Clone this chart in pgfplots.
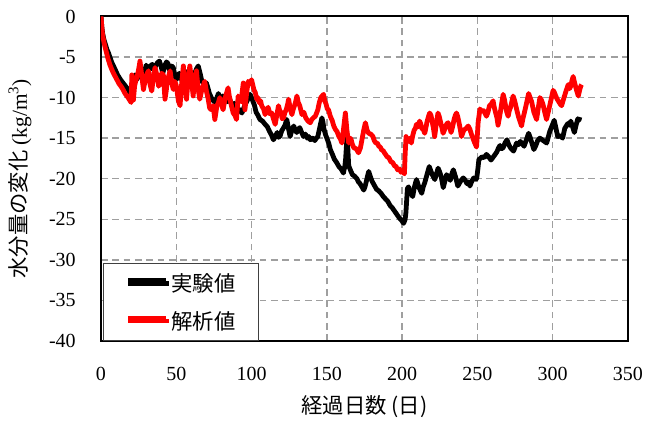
\documentclass[border=0pt]{standalone}
\usepackage{pgfplots}
\pgfplotsset{compat=1.18}
\usepackage{fontspec}
\setmainfont{Liberation Serif}
\newfontfamily\cjk{Noto Sans CJK JP}

% measured series: water content change (kg/m^3) vs elapsed days
\pgfplotstableread{
x y
0 0
0.5 -1.2
1 -2.0
2 -2.9
2.7 -3.3
4 -4.1
5 -4.5
7 -5.6
9.3 -6.5
11 -7.2
13 -7.8
15.5 -8.4
18 -9.0
19.5 -9.6
20.5 -9.0
21 -8.5
22 -7.6
22.6 -7.2
23.5 -7.8
25 -7.4
26 -6.8
27 -6.6
28.5 -7.2
30 -6.0
31 -6.4
32 -6.6
33 -6.1
34 -5.9
35 -6.6
36 -6.2
37.5 -5.7
38.8 -5.5
40 -6.2
41 -7.0
42.5 -6.0
43.5 -5.6
44.5 -5.8
45.3 -6.5
46 -6.8
47 -6.1
48 -6.3
49 -7.2
50 -7.8
51 -7.3
52 -7.0
53.5 -7.8
55 -7.5
56.5 -6.8
58 -7.0
59 -7.7
60 -8.0
61 -7.6
62 -7.2
63.3 -6.5
64.6 -6.1
65.8 -7.0
67 -8.0
68.5 -8.3
70 -8.2
71 -8.8
72 -9.5
73.8 -10.2
75.6 -10.6
77 -10.0
78 -9.5
79.5 -10.3
81 -9.8
82.5 -10.0
84 -10.5
85.5 -10.2
87 -11.0
88.5 -10.7
90 -11.2
91.8 -11.5
93.6 -11.9
95 -11.2
96 -10.8
97.5 -10.2
99 -9.6
100 -10.0
101 -10.5
102 -11.0
103 -11.8
104.3 -12.2
105.6 -12.7
107.3 -12.9
109 -13.3
110.5 -13.6
112 -14.2
113.2 -14.6
114.5 -15.2
115.8 -14.8
117 -14.3
118 -14.9
119 -14.7
120 -14.1
121 -13.8
122.2 -13.4
123.4 -12.7
124.5 -13.8
125.6 -14.8
126.8 -14.0
128 -13.5
129 -14.0
130 -14.3
131 -13.9
132 -13.7
133.3 -14.3
134.5 -14.8
135.8 -14.5
137 -15.0
138 -14.8
139 -15.2
140.5 -15.0
142 -15.3
143 -15.0
144 -14.8
145.4 -13.6
146.7 -12.5
147.4 -13.0
148 -13.8
149 -14.5
150 -15.0
151.2 -15.6
152.3 -16.4
153.7 -17.0
155 -17.6
156.5 -18.0
158 -18.5
159.5 -18.8
161 -19.3
162 -18.4
162.5 -17.5
163.4 -14.8
164 -16.5
164.5 -18.4
165.8 -19.0
167 -19.5
168.5 -19.7
170 -20.0
171 -20.4
172 -20.6
173.3 -21.0
174.5 -21.4
175.3 -21.0
176 -20.5
177 -19.7
177.8 -19.1
179 -19.8
180 -20.3
181.5 -20.8
183 -21.3
184.5 -21.5
186 -21.8
187.5 -22.2
189 -22.5
190.5 -22.8
192 -23.3
193.5 -23.6
195 -24.0
196.5 -24.4
198 -24.8
199.5 -25.1
201 -25.5
202 -25.0
202.5 -24.2
203.5 -21.2
204.3 -21.0
205 -21.5
206 -21.8
207 -22.2
208.2 -21.0
209.5 -20.1
210.3 -20.5
211 -21.0
212 -21.4
213 -21.8
214 -21.0
215 -20.5
216.5 -19.5
218 -18.5
219 -19.0
220 -19.5
221.7 -20.1
222.8 -19.4
223.9 -18.7
225 -19.2
226 -19.8
227.3 -21.1
228.4 -20.3
229.5 -19.5
230.8 -19.8
232 -20.2
233 -19.4
234 -18.9
235.5 -19.8
237 -20.9
238.8 -20.3
240.6 -19.9
242 -20.2
243 -20.6
244 -20.4
245 -20.9
246.3 -20.3
247.5 -19.9
248.5 -20.1
249.5 -20.0
250.3 -18.8
251 -17.6
252 -17.5
253 -17.3
254.5 -17.4
256 -17.0
257.5 -17.3
259 -17.7
261 -17.2
262.9 -16.7
264 -16.2
265 -15.9
266 -16.3
267 -16.2
268.3 -15.6
269.6 -15.2
270.8 -15.8
272 -16.2
273 -16.4
274 -16.6
275 -16.1
276 -15.6
277.3 -15.8
278.5 -15.4
279.8 -15.7
281 -16.0
282.5 -15.2
284 -14.4
285 -14.9
286 -15.5
287.5 -16.4
288.8 -15.9
290 -15.3
291.5 -15.0
293 -15.2
294.5 -15.4
296 -15.6
297 -14.9
298 -14.2
299.5 -13.5
301 -12.8
302.2 -13.8
303.3 -14.8
305 -14.7
306.6 -15.0
307.3 -14.4
308 -13.8
309 -13.5
310 -13.2
311 -13.4
312 -12.9
313.2 -13.6
314.4 -14.3
315.5 -13.4
316.7 -12.6
317.4 -12.8
318 -12.4
}\measured

% analysed series
\pgfplotstableread{
x y
0 0
0.5 -1.2
1 -2.2
2 -3.2
3 -4.0
4.5 -5.1
6 -6.0
8 -6.9
10 -7.6
12 -8.3
14 -8.8
16 -9.5
18 -10.0
19.3 -10.4
20 -10.6
20.5 -7.2
21.5 -10.3
22.3 -8.6
23 -8.0
24.5 -7.0
25.3 -6.2
25.9 -5.5
27 -7.2
28.2 -9.0
29 -8.2
30 -7.3
31.5 -6.7
32.6 -8.4
33.7 -9.2
35 -7.2
35.9 -6.3
37.5 -7.5
38.3 -8.6
39.2 -8.2
40.3 -7.0
41.4 -7.2
42.5 -10.2
43.3 -9.2
44 -8.0
45.9 -6.7
47 -8.2
48 -9.0
49 -8.0
50 -8.5
51.4 -10.4
52.5 -11.0
53.7 -8.0
54.7 -6.1
55.8 -8.8
56.8 -10.2
58 -7.5
59 -6.1
60.2 -8.0
61.2 -9.8
62.3 -7.6
63.4 -6.7
64.5 -8.9
65.6 -10.2
67 -9.0
68.9 -8.0
70 -9.2
71 -10.0
72.2 -11.3
73.3 -11.5
74.5 -11.0
75.6 -12.7
77 -11.0
78 -10.6
78.9 -10.0
80 -10.8
81.1 -11.5
82.5 -10.0
84.4 -8.8
85.2 -9.8
86 -10.5
87.8 -11.9
89 -12.2
90 -12.7
91.1 -9.8
92 -10.3
93 -10.5
94.5 -8.2
95.6 -11.5
96.8 -9.3
97.8 -8.0
99 -8.2
100 -7.8
101.5 -9.0
102.5 -9.4
103.4 -10.2
104.2 -10.0
105 -10.6
106 -10.4
106.7 -11.0
108 -11.4
109 -12.1
110 -11.5
111 -11.2
112.2 -12.0
113.4 -11.9
114.5 -12.6
115.7 -13.3
116.8 -12.1
117.9 -11.0
118.7 -11.6
119.5 -11.8
120.3 -12.6
121.2 -12.5
122.2 -11.8
123 -11.5
124 -10.8
124.6 -10.2
125.7 -11.4
126.8 -12.1
127.6 -11.5
128.5 -11.0
129.3 -10.5
130.1 -9.8
131 -10.6
132 -11.0
133.5 -12.1
134.7 -11.8
136 -12.5
137.5 -12.9
139 -13.1
140 -12.7
141 -12.5
142.3 -12.3
143 -12.0
144 -11.5
145 -10.6
146 -10.0
147.8 -9.6
148.6 -10.4
149.5 -10.8
150.3 -11.4
151.1 -11.5
152.3 -12.3
153.5 -12.8
154.6 -13.5
155.6 -13.9
156.8 -14.2
158 -14.8
159 -15.1
160 -15.6
161 -14.0
162.3 -11.9
163.3 -14.0
164.5 -15.6
165.2 -15.0
166 -15.1
167 -15.8
168 -16.2
169.5 -16.3
171 -16.8
172.3 -16.2
173.5 -15.0
174.5 -14.0
175.6 -13.1
176.7 -14.0
177.8 -14.4
179.2 -14.5
180.6 -14.8
181.5 -15.3
182.5 -15.6
183.5 -15.6
184.5 -16.0
185.5 -16.1
186.5 -16.5
187.3 -16.5
188.2 -16.8
189 -17.0
190 -17.3
191.2 -17.4
192.5 -17.9
193.7 -18.0
194.9 -18.4
196 -18.5
197 -18.9
198.2 -18.8
199.3 -19.2
200.4 -19.1
201.5 -19.4
202 -17.0
202.6 -14.8
203.3 -15.5
204 -15.2
205 -15.0
206.1 -15.6
207 -14.7
208 -14.0
208.8 -13.8
209.5 -13.3
210.5 -13.6
211.6 -12.9
212.3 -13.2
213 -13.8
214 -13.9
215 -14.4
215.8 -13.7
216.5 -13.0
217.4 -12.4
218.3 -11.9
219.2 -12.2
220 -13.0
220.8 -13.8
221.6 -14.8
222.7 -13.2
223.8 -11.9
224.6 -12.3
225.5 -13.0
226.4 -13.7
227.2 -14.4
228.1 -14.0
229 -13.5
229.8 -13.2
230.5 -13.1
231.5 -13.6
232.5 -14.3
233.5 -13.6
234.5 -12.7
235.3 -12.2
236.1 -11.9
237 -12.4
238 -13.3
238.7 -14.0
239.4 -14.8
240.2 -14.4
241 -14.0
242.5 -13.8
243.9 -13.5
245 -13.9
246 -14.5
247 -15.0
248 -15.5
248.7 -15.8
249.4 -16.1
250 -14.5
250.5 -13.0
251.7 -11.4
252.8 -11.7
254 -11.6
255 -11.9
256 -12.3
257 -11.8
258 -11.0
259.2 -10.8
260.4 -10.4
261.2 -11.2
262 -11.8
263 -12.5
263.7 -13.4
264.6 -12.5
265.5 -11.5
266.3 -10.5
267.1 -9.6
267.9 -10.2
268.7 -11.0
269.5 -11.8
270.4 -12.3
271.2 -11.6
272 -11.2
273 -10.4
273.7 -9.8
274.6 -10.3
275.5 -11.0
276.5 -11.8
277.5 -12.5
278.4 -13.0
279.3 -13.5
280.2 -12.6
281 -12.0
282.5 -10.8
284 -9.5
285 -10.0
286 -10.5
286.8 -11.2
287.5 -11.8
288.5 -12.3
289.3 -12.7
290.4 -11.3
291.5 -10.0
292.5 -10.3
293.5 -10.8
294.7 -11.8
295.9 -12.7
297 -11.8
298 -11.0
299.2 -10.0
300.3 -9.1
301.2 -9.4
302 -9.8
303 -10.2
304 -10.5
305 -10.8
305.9 -11.0
306.7 -10.5
307.5 -10.0
309 -9.1
310.3 -8.4
311.2 -8.9
312 -8.6
312.8 -7.9
313.6 -7.4
314.3 -8.0
315 -8.5
316 -9.2
317 -9.8
317.5 -9.4
318 -9.0
318.6 -8.6
319.2 -8.4
}\analysed

\begin{document}
\begin{tikzpicture}
\path[use as bounding box] (-75.75pt,-61.5pt) rectangle (420.75pt,255.75pt);
\begin{axis}[
  at={(0,0)}, anchor=south west,
  scale only axis, width=395.25pt, height=243.4pt,
  xmin=0, xmax=350, ymin=-40, ymax=0,
  xtick={0,50,...,350}, ytick={-40,-35,...,0},
  major tick length=0pt,
  /pgf/number format/assume math mode=true,
  ticklabel style={font=\fontsize{15}{18}\selectfont},
  yticklabel style={anchor=east, inner sep=0pt, xshift=-18.75pt},
  xticklabel style={anchor=north, inner sep=0pt, yshift=-19.2pt},
  axis line style={line width=1.5pt, black},
  grid=major,
  major grid style={dash pattern=on 5pt off 3.5pt, line width=1.1pt, color=gray!75},
  every axis x label/.style={at={(axis description cs:0.5,-0.2018)}, anchor=center},
  every axis y label/.style={at={(axis description cs:-0.1537,0.5)}, rotate=90, anchor=center},
  label style={font=\fontsize{16}{19}\selectfont},
  xlabel={{\cjk 経過日数 (日)}},
  ylabel={{\cjk 水分量の変化} (kg/m\textsuperscript{3})},
  legend style={at={(axis description cs:0.003,0)}, anchor=south west,
    draw=black!75, line width=0.9pt, fill=white,
    inner xsep=17pt, inner ysep=7pt, row sep=13.5pt,
    font=\fontsize{16}{19}\cjk, nodes={inner sep=0pt}},
  legend cell align=left,
  legend image code/.code={
    \draw[#1, line width=3pt] (0pt,2.4pt) -- (28.5pt,2.4pt);
    \path (0pt,0pt) -- (30.75pt,0pt);
  },
]
\addplot[black, line width=3.6pt, line join=round] table[x=x, y=y] {\measured};
\addlegendentry{実験値}
\addplot[red, line width=3.6pt, line join=round] table[x=x, y=y] {\analysed};
\addlegendentry{解析値}
\end{axis}
\end{tikzpicture}
\end{document}
